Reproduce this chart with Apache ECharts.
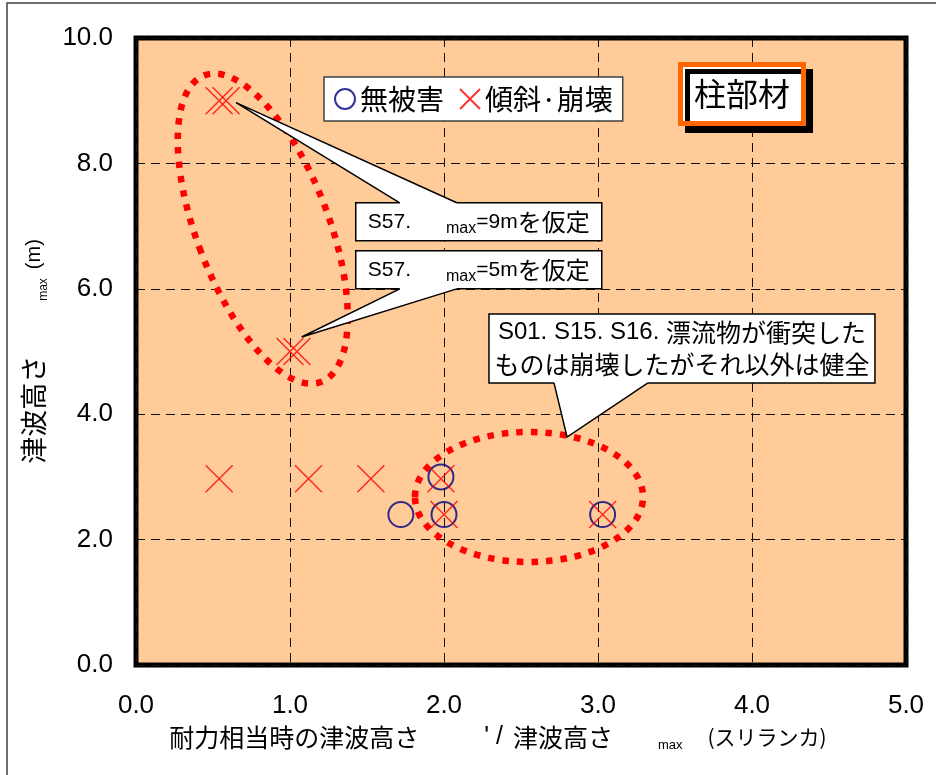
<!DOCTYPE html>
<html>
<head>
<meta charset="utf-8">
<script src="https://cdn.jsdelivr.net/npm/echarts/dist/echarts.min.js"></script>
<style>
  html, body { margin: 0; padding: 0; background: #fff; }
  #chart { width: 936px; height: 775px; }
</style>
</head>
<body>
<div id="chart"></div>
<script>
  // 無被害 (circles) and 傾斜·崩壊 (crosses), [x, y]
  var noDamage = [[1.72, 2.40], [1.98, 3.00], [2.00, 2.40], [3.03, 2.40]]
  var collapse = [[0.54, 9.00], [0.585, 9.00], [1.00, 5.00], [1.045, 5.00],
    [0.54, 2.97], [1.12, 2.97], [1.525, 2.97], [1.98, 2.97], [2.00, 2.40], [3.03, 2.40]]
  var seriesNames = ['無被害', '傾斜·崩壊']

  // dotted rings round the groups, centre in data units
  var ringCentres = [[0.823, 6.96], [2.552, 2.68]]
  var ringShapes = [{rx: 66, ry: 164, rot: 20.9}, {rx: 114, ry: 65, rot: 0}]

  // callouts: tip of the pointer in data units
  var calloutTips = [[0.65, 8.97], [1.076, 5.232], [2.799, 3.634]]
  var calloutTexts = [
    '{l|S57.}{s|max}{l|=9m}{j|を仮定}',
    '{l|S57.}{s|max}{l|=5m}{j|を仮定}',
    '{l|S01. S15. S16. }{j|漂流物が衝突した}\n{j|ものは崩壊したがそれ以外は健全}'
  ]
  var calloutBoxes = [
    {corner: [1.427, 7.372], w: 246, h: 38, side: 'top', base: [44, 101], size: 21, cjk: 24, lh: 30},
    {corner: [1.427, 6.605], w: 246, h: 38, side: 'bottom', base: [44, 101], size: 21, cjk: 24, lh: 30},
    {corner: [2.292, 5.599], w: 386, h: 69, side: 'bottom', base: [65, 159], size: 24, cjk: 25, lh: 32}
  ]

  var LATIN = 'Liberation Sans'
  var CJK = 'Noto Sans CJK JP'

  function renderRing (params, api) {
    var s = ringShapes[params.dataIndex]
    var c = api.coord([api.value(0), api.value(1)])
    return {
      type: 'ellipse',
      x: c[0],
      y: c[1],
      rotation: s.rot * Math.PI / 180,
      shape: {cx: 0, cy: 0, rx: s.rx, ry: s.ry},
      style: {fill: 'none', stroke: '#ff0000', lineWidth: 6.5, lineDash: [6.5, 8]}
    }
  }

  function renderCallout (params, api) {
    var i = params.dataIndex
    var b = calloutBoxes[i]
    var tip = api.coord([api.value(0), api.value(1)])
    var tl = api.coord(b.corner)
    var x0 = tl[0]
    var y0 = tl[1]
    var ey = b.side === 'top' ? y0 : y0 + b.h
    var inset = b.side === 'top' ? 2 : -2
    var p1 = [x0 + b.base[0], ey]
    var p2 = [x0 + b.base[1], ey]
    return {
      type: 'group',
      children: [
        {type: 'rect', shape: {x: x0, y: y0, width: b.w, height: b.h},
          style: {fill: '#fff', stroke: '#000', lineWidth: 1.5}},
        {type: 'polygon', shape: {points: [[p1[0], ey + inset], p1, tip, p2, [p2[0], ey + inset]]},
          style: {fill: '#fff'}},
        {type: 'polyline', shape: {points: [p1, tip, p2]},
          style: {fill: 'none', stroke: '#000', lineWidth: 1.5}},
        {type: 'text', x: x0 + b.w / 2, y: y0 + b.h / 2,
          style: {
            text: calloutTexts[i],
            align: 'center',
            verticalAlign: 'middle',
            fill: '#000',
            rich: {
              l: {fontFamily: LATIN, fontSize: b.size, lineHeight: b.lh, fill: '#000'},
              s: {fontFamily: LATIN, fontSize: 16, lineHeight: b.lh, fill: '#000', padding: [0, 0, 0, 35], verticalAlign: 'bottom'},
              j: {fontFamily: CJK, fontSize: b.cjk, lineHeight: b.lh, fill: '#000'}
            }
          }}
      ]
    }
  }

  var chart = echarts.init(document.getElementById('chart'))
  var option = {
    backgroundColor: '#fff',
    animation: false,
    graphic: [{
      type: 'rect',
      silent: true,
      shape: {x: 7, y: 3, width: 1200, height: 1200},
      style: {fill: 'none', stroke: '#404040', lineWidth: 1.5}
    }],
    title: {
      text: '柱部材',
      left: 680,
      top: 64,
      padding: [14, 14],
      backgroundColor: '#fff',
      borderColor: '#ff6600',
      borderWidth: 5,
      shadowColor: '#000',
      shadowBlur: 0,
      shadowOffsetX: 7,
      shadowOffsetY: 7,
      textStyle: {fontFamily: CJK, fontSize: 32, fontWeight: 'normal', color: '#000'}
    },
    legend: {
      data: seriesNames,
      left: 324,
      top: 77,
      itemWidth: 20,
      itemHeight: 20,
      itemGap: 15,
      padding: [8, 10, 8, 10],
      backgroundColor: '#fff',
      borderColor: '#404040',
      borderWidth: 1.5,
      selectedMode: false,
      textStyle: {fontFamily: CJK, fontSize: 28, color: '#000'}
    },
    grid: {
      left: 136,
      top: 38,
      right: 30,
      bottom: 110,
      show: true,
      backgroundColor: '#ffcc99',
      borderColor: '#000',
      borderWidth: 5
    },
    xAxis: {
      type: 'value',
      min: 0,
      max: 5,
      interval: 1,
      name: '{j1|耐力相当時の津波高さ}{q|\' /}{j2|津波高さ}{s|max}{k|(スリランカ)}',
      nameLocation: 'middle',
      nameGap: 57,
      nameTextStyle: {
        padding: [0, 46, 0, 0],
        rich: {
          j1: {fontFamily: CJK, fontSize: 25, color: '#000', lineHeight: 30},
          q: {fontFamily: LATIN, fontSize: 25, color: '#000', padding: [0, 0, 0, 65], lineHeight: 30},
          j2: {fontFamily: CJK, fontSize: 25, color: '#000', padding: [0, 0, 0, 10], lineHeight: 30},
          s: {fontFamily: LATIN, fontSize: 13, color: '#000', padding: [0, 0, 0, 45], verticalAlign: 'bottom', lineHeight: 30},
          k: {fontFamily: CJK, fontSize: 21, color: '#000', padding: [0, 0, 0, 25], lineHeight: 30}
        }
      },
      axisLine: {show: false},
      axisTick: {show: false},
      axisLabel: {
        fontFamily: LATIN,
        fontSize: 26,
        color: '#000',
        margin: 28,
        formatter: function (v) { return v.toFixed(1) }
      },
      splitLine: {lineStyle: {color: '#111', width: 1, type: [9, 6]}}
    },
    yAxis: {
      type: 'value',
      min: 0,
      max: 10,
      interval: 2,
      name: '{j|津波高さ}{s|max}{l|(m)}',
      nameLocation: 'middle',
      nameGap: 86,
      nameTextStyle: {
        rich: {
          j: {fontFamily: CJK, fontSize: 27, color: '#000', lineHeight: 32},
          s: {fontFamily: LATIN, fontSize: 12, color: '#000', padding: [0, 0, 0, 55], verticalAlign: 'bottom', lineHeight: 32},
          l: {fontFamily: LATIN, fontSize: 20, color: '#000', padding: [0, 0, 0, 9], lineHeight: 32}
        }
      },
      axisLine: {show: false},
      axisTick: {show: false},
      axisLabel: {
        fontFamily: LATIN,
        fontSize: 26,
        color: '#000',
        margin: 23,
        formatter: function (v) { return v.toFixed(1) }
      },
      splitLine: {lineStyle: {color: '#111', width: 1, type: [9, 6]}}
    },
    series: [{
      type: 'custom',
      name: 'rings',
      silent: true,
      z: 2,
      renderItem: renderRing,
      data: ringCentres
    }, {
      type: 'custom',
      name: 'callouts',
      silent: true,
      z: 3,
      renderItem: renderCallout,
      data: calloutTips
    }, {
      name: seriesNames[0],
      type: 'scatter',
      z: 4,
      symbol: 'circle',
      symbolSize: 25,
      itemStyle: {color: 'rgba(0,0,0,0)', borderColor: '#000080', borderWidth: 2},
      data: noDamage
    }, {
      name: seriesNames[1],
      type: 'scatter',
      z: 5,
      symbol: 'path://M0,0L10,10M10,0L0,10',
      symbolSize: 27,
      itemStyle: {color: 'rgba(0,0,0,0)', borderColor: '#ff0000', borderWidth: 1.5},
      data: collapse
    }]
  }
  chart.setOption(option)
</script>
</body>
</html>
